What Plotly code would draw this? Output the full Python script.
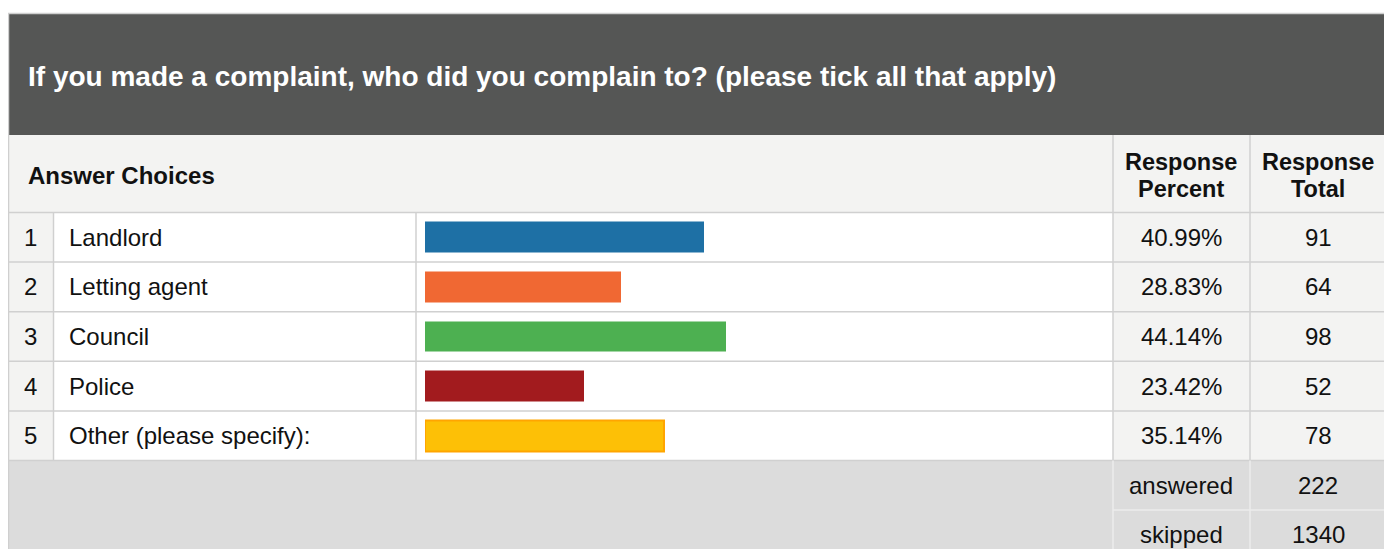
import plotly.graph_objects as go

# ---- data ----
title = "If you made a complaint, who did you complain to? (please tick all that apply)"
choices = ["Landlord", "Letting agent", "Council", "Police", "Other (please specify):"]
percents = [40.99, 28.83, 44.14, 23.42, 35.14]
totals = [91, 64, 98, 52, 78]
bar_colors = ["#1e70a5", "#f06833", "#4db051", "#a21b1e", "#fdc006"]
bar_line_colors = ["#1e70a5", "#f06833", "#4db051", "#a21b1e", "#ffa500"]
footer_labels = ["answered", "skipped"]
footer_values = [222, 1340]

# the page body has an 8px margin; the figure is sized to fill the rest of the window
OFF = 8
W, H = 1392 - OFF, 549 - OFF
FONT = "Liberation Sans, Arial, sans-serif"


def px(x):
    return (x - OFF) / W


def py(y):
    return 1 - (y - OFF) / H


# table geometry (window pixels)
L, R = 8, 1387
TITLE_TOP, TITLE_BOT = 13.5, 135
HEAD_BOT = 212.5
ROW_TOP = 212.5
ROW_H = 49.6
n = len(choices)
ROWS_BOT = ROW_TOP + n * ROW_H
C_NUM, C_LAB, C_PCT, C_TOT = 53.5, 416, 1113, 1250
BAR_X0, BAR_X100 = 425, 1106

fig = go.Figure()

fig.add_trace(go.Bar(
    x=percents,
    y=list(range(1, n + 1)),
    orientation="h",
    width=0.62,
    marker=dict(color=bar_colors, line=dict(color=bar_line_colors, width=[0, 0, 0, 0, 2])),
    hoverinfo="skip",
    showlegend=False,
))

shapes = []


def rect(x0, y0, x1, y1, color):
    shapes.append(dict(type="rect", xref="paper", yref="paper",
                       x0=px(x0), x1=px(x1), y0=py(y1), y1=py(y0),
                       fillcolor=color, line=dict(width=0), layer="below"))


def line(x0, y0, x1, y1, color="#d0d0d0", w=1.5):
    shapes.append(dict(type="line", xref="paper", yref="paper",
                       x0=px(x0), x1=px(x1), y0=py(y0), y1=py(y1),
                       line=dict(color=color, width=w), layer="above"))


# backgrounds
rect(L, TITLE_TOP, R, TITLE_BOT, "#555655")
rect(L, TITLE_BOT, R, HEAD_BOT, "#f3f3f2")
rect(L, ROW_TOP, C_NUM, ROWS_BOT, "#f3f3f2")
rect(C_PCT, ROW_TOP, R, ROWS_BOT, "#f3f3f2")
rect(L, ROWS_BOT, R, 560, "#dcdcdc")

# borders
line(L, TITLE_TOP, R, TITLE_TOP, "#cfcfcf", 1.5)
line(L + 0.5, TITLE_TOP, L + 0.5, 560, "#cfcfcf", 1.5)
line(R, TITLE_TOP, R, 560, "#cfcfcf", 1.5)
line(L, HEAD_BOT, R, HEAD_BOT)
for i in range(1, n + 1):
    yy = ROW_TOP + i * ROW_H
    line(L, yy, R, yy)
for xx in (C_NUM, C_LAB):
    line(xx, ROW_TOP, xx, ROWS_BOT)
for xx in (C_PCT, C_TOT):
    line(xx, TITLE_BOT, xx, ROWS_BOT)
    line(xx, ROWS_BOT, xx, 560, "#ececec", 1.5)
line(C_PCT, ROWS_BOT + ROW_H, R, ROWS_BOT + ROW_H, "#ececec", 1.5)

ann = []


def text(x, y, s, anchor="center", size=24, color="#111111", bold=False, yref="paper"):
    if bold:
        s = "<b>" + s + "</b>"
    ann.append(dict(x=px(x), y=y, xref="paper", yref=yref, text=s, showarrow=False,
                    xanchor=anchor, yanchor="middle",
                    font=dict(family=FONT, size=size, color=color)))


text(26, py(76), title, anchor="left", size=28, color="white", bold=True)
text(26, py(175), "Answer Choices", anchor="left", size=24, bold=True)
text(1181, py(162), "Response", size=23.5, bold=True)
text(1181, py(189), "Percent", size=23.5, bold=True)
text(1318, py(162), "Response", size=23.5, bold=True)
text(1318, py(189), "Total", size=23.5, bold=True)

for i, (c, p, t) in enumerate(zip(choices, percents, totals), start=1):
    text(30, i, str(i), yref="y")
    text(67, i, c, anchor="left", yref="y")
    text(1181, i, f"{p:.2f}%", yref="y")
    text(1318, i, str(t), yref="y")

for j, (lab, v) in enumerate(zip(footer_labels, footer_values)):
    yc = py(ROWS_BOT + (j + 0.5) * ROW_H)
    text(1181, yc, lab)
    text(1318, yc, str(v))

fig.update_layout(
    width=W, height=H,
    margin=dict(l=0, r=0, t=0, b=0),
    paper_bgcolor="white", plot_bgcolor="rgba(0,0,0,0)",
    shapes=shapes, annotations=ann,
    xaxis=dict(domain=[px(BAR_X0), px(BAR_X100)], range=[0, 100], visible=False, fixedrange=True),
    yaxis=dict(domain=[py(ROWS_BOT), py(ROW_TOP)], range=[n + 0.5, 0.5], visible=False, fixedrange=True),
    bargap=0,
    showlegend=False,
)

fig.write_html("out.html", config={"displayModeBar": False})
